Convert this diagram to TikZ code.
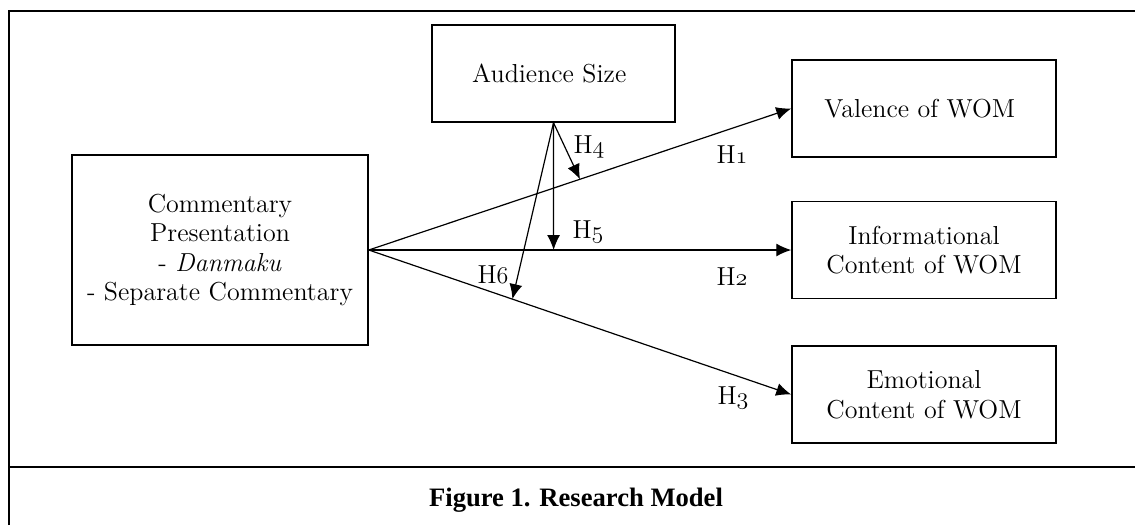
\documentclass[tikz,border=0pt]{standalone}
\usepackage{fontspec}
\newfontfamily\capfont{Liberation Serif}
\usepackage{tikz}
\usetikzlibrary{arrows.meta}
\newcommand{\hyp}[1]{H{\usefont{OML}{cmm}{m}{it}#1}}

\begin{document}
\begin{tikzpicture}[x=0.5pt, y=-0.5pt,
  font=\fontsize{13}{14.8}\selectfont,
  construct/.style={draw, line width=0.75pt, align=center, inner sep=0pt},
  effect/.style={line width=0.6pt, -{Latex[length=7.5pt,width=6.5pt]}},
  hlabel/.style={inner sep=0pt}]
%%% research model %%%
\useasboundingbox (0,0) rectangle (1135,525);

      %% frame
      \draw[line width=0.85pt] (9,525) -- (9,11) -- (1135,11);
      \draw[line width=0.85pt] (9,467) -- (1135,467);

      %% constructs
      \node[construct, minimum width=148pt, minimum height=95pt] (pres) at (220,250)
        { Commentary\\ Presentation\\ - \emph{Danmaku}\\ - Separate Commentary };
      \node[construct, minimum width=121.5pt, minimum height=48.5pt] (aud) at (553.5,73.5)
        { Audience Size };
      \node[construct, minimum width=132pt, minimum height=48.5pt] (val) at (924,108.5)
        { Valence of WOM };
      \node[construct, minimum width=132pt, minimum height=48.5pt] (info) at (924,250)
        { Informational\\ Content of WOM };
      \node[construct, minimum width=132pt, minimum height=48.5pt] (emo) at (924,394.5)
        { Emotional\\ Content of WOM };

      %% main effects
      \draw[effect] (pres.east) -- (val.west) coordinate[pos=0.5] (m1);
      \draw[effect] (pres.east) -- (info.west) coordinate[pos=0.4375] (m2);
      \draw[effect] (pres.east) -- (emo.west) coordinate[pos=0.34] (m3);

      %% moderation
      \draw[effect] (aud.south) -- (m1);
      \draw[effect] (aud.south) -- (m2);
      \draw[effect] (aud.south) -- (m3);

      %% hypotheses
      \node[hlabel] (h1) at (732,155) {\hyp{1}};
      \node[hlabel] (h2) at (732,277) {\hyp{2}};
      \node[hlabel] (h3) at (733,398) {\hyp{3}};
      \node[hlabel] (h4) at (589,147) {\hyp{4}};
      \node[hlabel] (h5) at (588,232) {\hyp{5}};
      \node[hlabel] (h6) at (493,275) {\hyp{6}};

      %% caption
      \node (cap) at (576,500) {\capfont\fontsize{13.3}{16}\selectfont\bfseries Figure 1. Research Model};

\end{tikzpicture}
\end{document}
